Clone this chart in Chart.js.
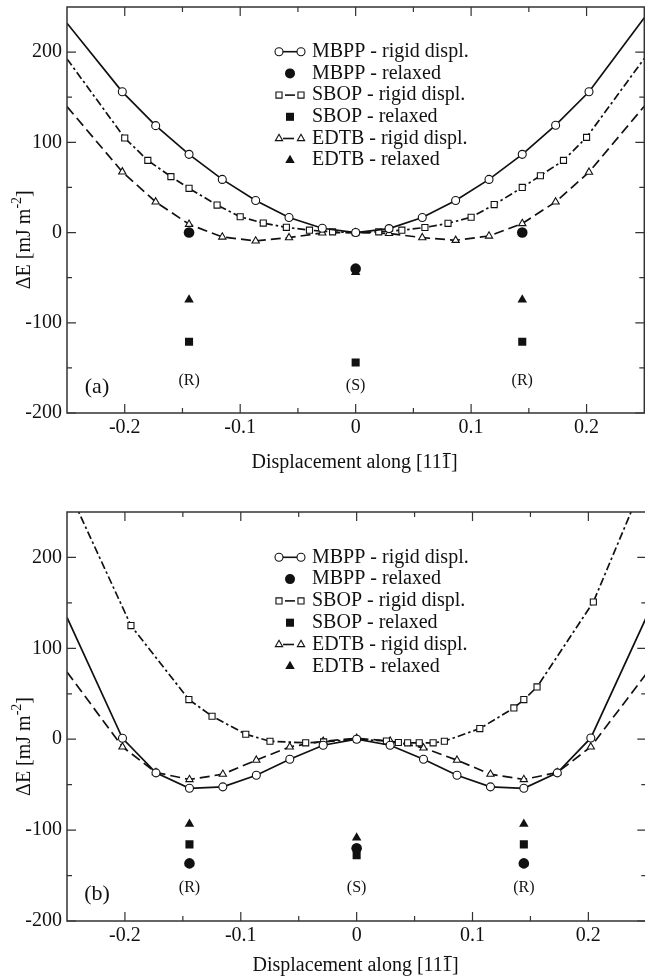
<!DOCTYPE html>
<html>
<head>
<meta charset="utf-8">
<title>Energy vs displacement</title>
<script src="https://cdn.jsdelivr.net/npm/chart.js@4.4.1/dist/chart.umd.min.js"></script>
<style>
  html, body { margin: 0; padding: 0; background: #fff; overflow: hidden; }
  .wrap { position: absolute; left: 0; width: 645px; overflow: hidden; }
  canvas { display: block; }
</style>
</head>
<body>
<div class="wrap" style="top:0;height:480px"><canvas id="chartA" width="650" height="480"></canvas></div>
<div class="wrap" style="top:480px;height:500px"><canvas id="chartB" width="652" height="500"></canvas></div>
<script>
// displacement grid of the MBPP / EDTB rigid curves (edge points carry no marker)
var gridX = [-0.25, -0.2021, -0.1732, -0.1443, -0.1155, -0.0866, -0.0577, -0.0289, 0,
             0.0289, 0.0577, 0.0866, 0.1155, 0.1443, 0.1732, 0.2021, 0.25];
var relaxedX = [-0.1443, 0, 0.1443];

// panel (a)
var mbppRigidA = [232, 156, 118.5, 86.7, 58.9, 35.5, 16.7, 4.8, 0, 4.4, 16.7, 35.5, 58.9, 86.7, 119, 156, 238];
var edtbRigidA = [139.6, 67.3, 34, 9.2, -4.9, -9.3, -5.6, -0.4, 0, -1, -5.6, -8.6, -3.8, 10, 34, 67, 140];
var sbopXA = [-0.25, -0.2, -0.18, -0.16, -0.1443, -0.12, -0.1, -0.08, -0.06, -0.04, -0.02, 0,
              0.02, 0.04, 0.06, 0.08, 0.1, 0.12, 0.1443, 0.16, 0.18, 0.2, 0.25];
var sbopRigidA = [192.5, 104.8, 80, 62, 49, 30.5, 17.5, 10.5, 5.8, 2.6, 0.8, 0,
                  0.8, 2.6, 5.6, 10.2, 17, 31, 50, 63, 80, 105.5, 193];
var mbppRelaxedA = [0, -40, 0];
var sbopRelaxedA = [-121, -144, -121];
var edtbRelaxedA = [-74.5, -44, -74.5];
var stateYA = [-164, -170, -164];

// panel (b)
var mbppRigidB = [134, 1, -37, -54, -52.4, -39.6, -22, -6.6, 0, -6.6, -22, -39.6, -52.4, -54, -37, 1.4, 134];
var edtbRigidB = [74, -8.4, -36.6, -44.3, -38.5, -23, -8.4, -2.2, 1, -2, -9.5, -23, -38.5, -44.3, -36.6, -8.4, 72];
var sbopXB = [-0.25, -0.1948, -0.1448, -0.1248, -0.0957, -0.0748, -0.044, -0.0285, 0,
              0.0257, 0.036, 0.044, 0.054, 0.066, 0.0757, 0.1063, 0.1357, 0.1443, 0.1557, 0.2043, 0.25];
var sbopRigidB = [278, 125, 43.6, 25.3, 5.5, -2.2, -4, -3, 0,
                  -2, -3.6, -4, -4, -4, -2.2, 11.7, 34.4, 43.6, 57.5, 151, 290];
var mbppRelaxedB = [-136.6, -120, -136.6];
var sbopRelaxedB = [-115.7, -127.5, -115.7];
var edtbRelaxedB = [-93.4, -108.4, -93.4];
var stateYB = [-164, -164, -164];

var stateLabels = ['(R)', '(S)', '(R)'];
var xTickVals = [-0.2, -0.1, 0, 0.1, 0.2];
var xTickLabels = ['-0.2', '-0.1', '0', '0.1', '0.2'];
var yTickVals = [-200, -100, 0, 100, 200];
var yTickLabels = ['-200', '-100', '0', '100', '200'];
var legendLabels = ['MBPP - rigid displ.', 'MBPP - relaxed', 'SBOP - rigid displ.',
                    'SBOP - relaxed', 'EDTB - rigid displ.', 'EDTB - relaxed'];

var FONT = "'Liberation Serif', 'Times New Roman', serif";
var INK = '#111';
var DASH_SBOP = [8, 3, 2.5, 3];
var DASH_EDTB = [10, 5];

function series(xs, ys) {
  return xs.map(function (x, i) { return { x: x, y: ys[i] }; });
}

function rigid(label, xs, ys, style, radius, dash) {
  return {
    label: label,
    data: series(xs, ys),
    showLine: true,
    borderColor: INK,
    borderWidth: 1.7,
    borderDash: dash,
    pointStyle: style,
    pointBackgroundColor: '#fff',
    pointBorderColor: INK,
    pointBorderWidth: 1.1,
    pointRadius: function (c) {
      var p = c.raw;
      return (p && Math.abs(p.x) >= 0.25) ? 0 : radius;
    },
    tension: 0,
    fill: false
  };
}

function relaxed(label, ys, style, radius) {
  return {
    label: label,
    data: series(relaxedX, ys),
    showLine: false,
    pointStyle: style,
    pointBackgroundColor: INK,
    pointBorderColor: INK,
    pointBorderWidth: 0,
    pointRadius: radius
  };
}

// legend samples: [pointStyle, radius, filled, connector from, connector to]
var legendMarks = [
  ['circle', 4, false, 279, 301],
  ['circle', 5, true],
  ['rect', 4.3, false, 285, 295],
  ['rect', 5.7, true],
  ['triangle', 4.2, false, 283, 294],
  ['triangle', 5.5, true]
];

function mark(ctx, style, r, filled, x, y) {
  ctx.fillStyle = filled ? INK : '#fff';
  ctx.strokeStyle = INK;
  ctx.lineWidth = 1.1;
  ctx.setLineDash([]);
  Chart.helpers.drawPoint(ctx, { pointStyle: style, radius: r, rotation: 0, borderWidth: filled ? 0 : 1.1 }, x, y);
}

function decorations(opts) {
  return {
    id: 'decorations',
    afterDatasetsDraw: function (chart) {
      var ctx = chart.ctx, a = chart.chartArea;
      var xs = chart.scales.x, ys = chart.scales.y;
      ctx.save();

      // frame
      ctx.strokeStyle = '#333';
      ctx.lineWidth = 1.5;
      ctx.setLineDash([]);
      ctx.strokeRect(a.left, a.top, a.right - a.left, a.bottom - a.top);

      // inward ticks on all four sides
      ctx.lineWidth = 1.2;
      ctx.beginPath();
      [-0.2, -0.15, -0.1, -0.05, 0, 0.05, 0.1, 0.15, 0.2].forEach(function (v, i) {
        var px = xs.getPixelForValue(v), len = (i % 2 === 0) ? 9 : 5;
        ctx.moveTo(px, a.bottom); ctx.lineTo(px, a.bottom - len);
        ctx.moveTo(px, a.top); ctx.lineTo(px, a.top + len);
      });
      [-200, -150, -100, -50, 0, 50, 100, 150, 200].forEach(function (v, i) {
        var py = ys.getPixelForValue(v), len = (i % 2 === 0) ? 9 : 5;
        ctx.moveTo(a.left, py); ctx.lineTo(a.left + len, py);
        ctx.moveTo(a.right, py); ctx.lineTo(a.right - len, py);
      });
      ctx.stroke();

      // state labels
      ctx.fillStyle = INK;
      ctx.textAlign = 'center';
      ctx.textBaseline = 'middle';
      ctx.font = '16px ' + FONT;
      stateLabels.forEach(function (t, i) {
        ctx.fillText(t, xs.getPixelForValue(relaxedX[i]), ys.getPixelForValue(opts.stateY[i]));
      });

      // panel letter
      ctx.font = '22px ' + FONT;
      ctx.fillText(opts.letter, a.left + 30, ys.getPixelForValue(-171));

      // legend
      ctx.font = '20px ' + FONT;
      ctx.textAlign = 'left';
      legendLabels.forEach(function (t, i) {
        var y = opts.legendTop + i * opts.legendStep;
        var m = legendMarks[i];
        if (!m[2]) {
          ctx.strokeStyle = INK;
          ctx.lineWidth = 1.6;
          ctx.setLineDash([]);
          ctx.beginPath(); ctx.moveTo(m[3], y); ctx.lineTo(m[4], y); ctx.stroke();
          mark(ctx, m[0], m[1], m[2], 279, y);
          mark(ctx, m[0], m[1], m[2], 301, y);
        } else {
          mark(ctx, m[0], m[1], m[2], 290, y);
        }
        ctx.fillStyle = INK;
        ctx.fillText(t, 312, y);
      });

      // x title with overlined last index
      var xt = 'Displacement along [111]';
      var cx = (a.left + a.right) / 2 - 1, cy = a.bottom + opts.xTitleGap;
      ctx.font = '20px ' + FONT;
      var tw = ctx.measureText(xt).width;
      var w0 = ctx.measureText('Displacement along [11').width;
      var w1 = ctx.measureText('1').width;
      ctx.fillText(xt, cx - tw / 2, cy);
      ctx.strokeStyle = INK;
      ctx.lineWidth = 1.1;
      ctx.setLineDash([]);
      ctx.beginPath();
      ctx.moveTo(cx - tw / 2 + w0 + 1, cy - 9.5);
      ctx.lineTo(cx - tw / 2 + w0 + w1 - 1, cy - 9.5);
      ctx.stroke();

      // y title, rotated, with superscript
      var main = '\u0394E [mJ m', sup = '-2', end = ']';
      ctx.font = '20px ' + FONT;
      var m1 = ctx.measureText(main).width, m3 = ctx.measureText(end).width;
      ctx.font = '14px ' + FONT;
      var m2 = ctx.measureText(sup).width;
      var total = m1 + m2 + m3;
      ctx.translate(25, ys.getPixelForValue(-8));
      ctx.rotate(-Math.PI / 2);
      ctx.font = '20px ' + FONT;
      ctx.fillText(main, -total / 2, 0);
      ctx.font = '14px ' + FONT;
      ctx.fillText(sup, -total / 2 + m1, -8);
      ctx.font = '20px ' + FONT;
      ctx.fillText(end, -total / 2 + m1 + m2, 0);

      ctx.restore();
    }
  };
}

function makeChart(id, d) {
  return new Chart(document.getElementById(id), {
    type: 'line',
    data: {
      datasets: [
        relaxed('MBPP - relaxed', d.mbppRelaxed, 'circle', 5.3),
        relaxed('SBOP - relaxed', d.sbopRelaxed, 'rect', 5.7),
        relaxed('EDTB - relaxed', d.edtbRelaxed, 'triangle', 5.5),
        rigid('MBPP - rigid displ.', gridX, d.mbppRigid, 'circle', 4, []),
        rigid('SBOP - rigid displ.', d.sbopX, d.sbopRigid, 'rect', 4.3, DASH_SBOP),
        rigid('EDTB - rigid displ.', gridX, d.edtbRigid, 'triangle', 4.2, DASH_EDTB)
      ]
    },
    options: {
      responsive: false,
      animation: false,
      events: [],
      layout: { padding: { top: d.padTop, bottom: 7, left: 0, right: 2 } },
      plugins: { legend: { display: false }, tooltip: { enabled: false } },
      scales: {
        x: {
          type: 'linear', min: -0.25, max: 0.25,
          grid: { display: false, drawTicks: false },
          border: { display: false },
          afterBuildTicks: function (s) { s.ticks = xTickVals.map(function (v) { return { value: v }; }); },
          afterFit: function (s) { s.height = d.xHeight; s.paddingLeft = 0; s.paddingRight = 0; },
          ticks: {
            autoSkip: false, maxRotation: 0, padding: 3, color: INK,
            font: { family: FONT, size: 20 },
            callback: function (v, i) { return xTickLabels[i]; }
          }
        },
        y: {
          min: -200, max: 250,
          grid: { display: false, drawTicks: false },
          border: { display: false },
          afterBuildTicks: function (s) { s.ticks = yTickVals.map(function (v) { return { value: v }; }); },
          afterFit: function (s) { s.width = 67; s.paddingTop = 0; s.paddingBottom = 0; },
          ticks: {
            autoSkip: false, padding: 5, color: INK,
            font: { family: FONT, size: 20 },
            callback: function (v, i) { return yTickLabels[i]; }
          }
        }
      }
    },
    plugins: [decorations(d)]
  });
}

makeChart('chartA', {
  mbppRigid: mbppRigidA, edtbRigid: edtbRigidA, sbopX: sbopXA, sbopRigid: sbopRigidA,
  mbppRelaxed: mbppRelaxedA, sbopRelaxed: sbopRelaxedA, edtbRelaxed: edtbRelaxedA,
  stateY: stateYA, letter: '(a)', padTop: 7, xHeight: 60,
  legendTop: 51.7, legendStep: 21.7, xTitleGap: 50
});

makeChart('chartB', {
  mbppRigid: mbppRigidB, edtbRigid: edtbRigidB, sbopX: sbopXB, sbopRigid: sbopRigidB,
  mbppRelaxed: mbppRelaxedB, sbopRelaxed: sbopRelaxedB, edtbRelaxed: edtbRelaxedB,
  stateY: stateYB, letter: '(b)', padTop: 32, xHeight: 52,
  legendTop: 77.3, legendStep: 21.8, xTitleGap: 45
});
</script>
</body>
</html>
